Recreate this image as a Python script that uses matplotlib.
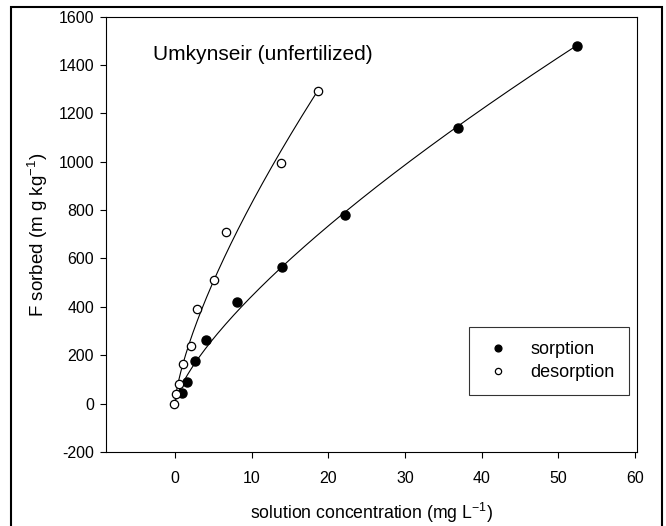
import matplotlib
matplotlib.use("Agg")
import matplotlib.pyplot as plt
import numpy as np
from matplotlib.patches import Rectangle

plt.rcParams['font.family'] = ['Liberation Sans', 'DejaVu Sans']
plt.rcParams['axes.unicode_minus'] = False
plt.rcParams['mathtext.fontset'] = 'custom'
plt.rcParams['mathtext.rm'] = 'Liberation Sans'

# sorption points (filled)
sorp_c = [0.9, 1.6, 2.6, 4.1, 8.1, 13.9, 22.2, 36.9, 52.4]
sorp_f = [44, 88, 176, 262, 422, 563, 782, 1138, 1480]

# desorption points (open)
desorp_c = [-0.1, 0.1, 0.5, 1.0, 2.1, 2.9, 5.1, 6.6, 13.8, 18.6]
desorp_f = [0, 40, 81, 164, 238, 391, 511, 710, 995, 1293]

# fitted Freundlich curves F = K * C^n
sorp_K, sorp_n = 83.0, 0.728
desorp_K, desorp_n = 159.0, 0.717

fig = plt.figure(figsize=(6.66, 5.26), dpi=100)
ax = fig.add_axes([0.159, 0.141, 0.797, 0.827])

c1 = np.linspace(0.02, max(sorp_c), 200)
ax.plot(c1, sorp_K * c1 ** sorp_n, color='black', lw=0.8)
c2 = np.linspace(0.02, max(desorp_c), 200)
ax.plot(c2, desorp_K * c2 ** desorp_n, color='black', lw=0.8)

ax.plot(sorp_c, sorp_f, 'o', color='black', ms=6.5, label='sorption', zorder=3)
ax.plot(desorp_c, desorp_f, 'o', mfc='white', mec='black', mew=0.9, ms=6,
        label='desorption', zorder=3)

ax.set_xlim(-9, 60.2)
ax.set_ylim(-200, 1600)
ax.set_xticks(np.arange(0, 61, 10))
ax.set_yticks(np.arange(-200, 1601, 200))
ax.tick_params(direction='out', length=4.5, width=0.8, labelsize=11.5)
ax.tick_params(axis='x', pad=9)
ax.tick_params(axis='y', pad=4)
for s in ax.spines.values():
    s.set_linewidth(0.8)

ax.set_xlabel('solution concentration (mg L$^{-1}$)', fontsize=12.7, labelpad=11)
ax.set_ylabel('F sorbed (m g kg$^{-1}$)', fontsize=13.5, labelpad=6)

ax.text(0.0885, 0.913, 'Umkynseir (unfertilized)', transform=ax.transAxes,
        fontsize=15, va='center', ha='left')

leg = ax.legend(loc='upper right', bbox_to_anchor=(0.985, 0.287), fontsize=13,
                frameon=True, fancybox=False, edgecolor='black',
                handletextpad=1.0, borderpad=0.8, labelspacing=0.3,
                borderaxespad=0, markerscale=0.75, handlelength=1.6)
leg.get_frame().set_linewidth(0.8)

# outer border around the figure
fig.patches.append(Rectangle((11 / 666, -0.01), (662 - 11) / 666, 1.01 - 7 / 526,
                             transform=fig.transFigure, fill=False,
                             edgecolor='black', lw=1.5))

fig.savefig('out.png', dpi=100)
